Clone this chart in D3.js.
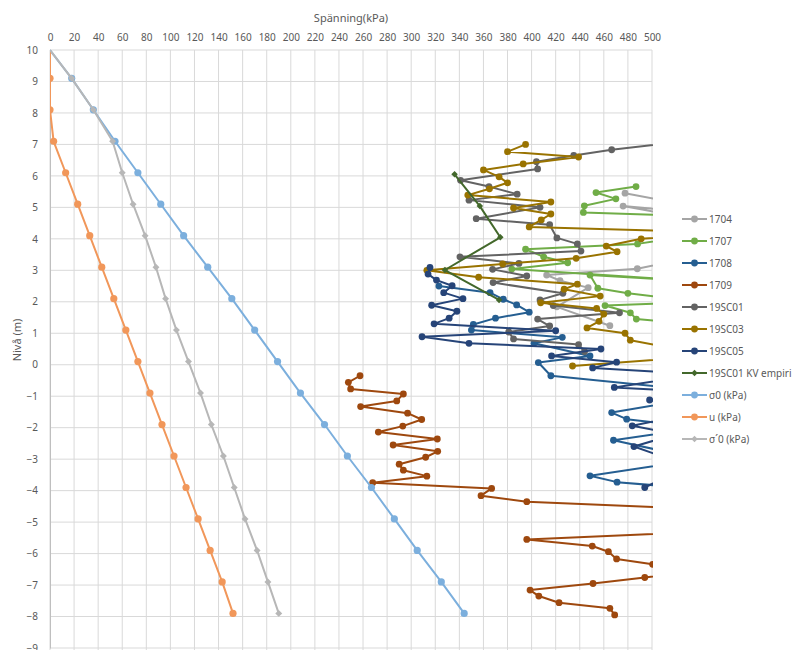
<!DOCTYPE html>
<html>
<head>
<meta charset="utf-8">
<script src="https://cdn.jsdelivr.net/npm/d3@7"></script>
<style>
  body { margin: 0; background: #fff; }
  text { font-family: "Noto Sans", "Liberation Sans", sans-serif; fill: #595959; }
</style>
</head>
<body>
<div id="main"></div>
<script>
// theoretical profiles, one value per level
var levels = [10, 9.1, 8.1, 7.1, 6.1, 5.1, 4.1, 3.1, 2.1, 1.1, 0.1, -0.9, -1.9, -2.9, -3.9, -4.9, -5.9, -6.9, -7.9];
var sigma0 = [0, 18, 36, 54, 73, 92, 111, 131, 151, 170, 189, 208, 228, 247, 267, 286, 305, 325, 344];
var uKpa = [0, 0, 0, 3, 13, 23, 33, 43, 53, 63, 73, 83, 93, 103, 113, 123, 133, 143, 152];
var sigmaEff = [0, 18, 36, 52, 60, 69, 79, 88, 96, 105, 115, 125, 134, 144, 153, 162, 172, 181, 190];

// measured series: [kPa, level]
var s1704 = [[477.6, 5.45], [580, 4.7], [476, 5.04], [616, 4.08], [487.8, 3.05], [412.5, 2.85], [423.6, 2.67], [447, 2.45], [421, 1.84], [465, 1.24]];
var s1707 = [[486.7, 5.66], [453.5, 5.47], [470, 5.27], [443.8, 5.05], [443, 4.84], [615, 4.62], [488, 3.84], [395, 3.67], [410, 3.43], [430, 3.24], [383.5, 3.04], [600, 2.5], [448.5, 2.85], [455, 2.43], [480, 2.27], [540, 2.0], [461, 1.88], [482, 1.65], [487, 1.45], [560, 1.2]];
var s1708 = [[323, 2.5], [365.5, 2.29], [376.5, 2.08], [387.6, 1.9], [398, 1.67], [370, 1.48], [351.6, 1.28], [350, 1.1], [425.5, 0.87], [402, 0.68], [448.5, 0.28], [405.6, 0.07], [416, -0.35], [560, -0.9], [466.5, -1.52], [479, -1.73], [540, -2.0], [468, -2.4], [540, -3.0], [448.5, -3.53], [471, -3.73], [540, -3.95]];
var s1709 = [[257.5, -0.35], [247.8, -0.56], [249.7, -0.77], [293.5, -0.93], [288, -1.15], [258, -1.33], [297, -1.54], [308.7, -1.74], [293, -1.95], [272.7, -2.14], [321.7, -2.36], [285, -2.55], [322, -2.75], [312, -2.94], [290, -3.16], [293.5, -3.35], [313, -3.54], [268, -3.75], [366.8, -3.93], [358, -4.16], [396, -4.35], [760, -4.95], [396, -5.55], [450.4, -5.76], [463.8, -5.94], [470.6, -6.17], [500.5, -6.34], [530, -6.6], [494, -6.76], [451, -6.95], [398.7, -7.16], [406, -7.35], [422.8, -7.56], [465, -7.74], [469, -7.95]];
var s19SC01 = [[540, 7.15], [466.5, 6.83], [435, 6.65], [404, 6.45], [405, 6.22], [341, 5.86], [364.6, 5.66], [388, 5.42], [348, 5.23], [407, 5.0], [354, 4.64], [415, 4.45], [421, 4.03], [438, 3.84], [441, 3.61], [340.5, 3.43], [389.5, 3.22], [367.6, 3.03], [396, 2.82], [368, 2.61], [426, 2.27], [407, 2.06], [418, 1.88], [473, 1.65], [405, 1.45], [415, 1.23], [381, 1.04], [385, 0.82], [439, 0.64], [444, 0.42]];
var s19SC03 = [[395, 7.0], [380, 6.77], [439, 6.6], [393, 6.38], [360, 6.19], [373, 5.97], [380, 5.78], [365, 5.59], [347, 5.39], [416, 5.17], [385, 4.98], [416, 4.79], [408, 4.6], [398, 4.38], [560, 4.2], [491, 4.0], [462, 3.77], [471, 3.59], [437, 3.38], [376, 3.2], [313, 3.0], [356, 2.78], [438, 2.56], [427, 2.4], [457, 2.18], [407.5, 1.97], [454, 1.79], [460, 1.61], [456, 1.38], [446, 1.17], [477.6, 1.0], [482, 0.78], [551, 0.29], [434, -0.04]];
var s19SC05 = [[315.6, 3.09], [314, 2.88], [321, 2.69], [334, 2.51], [327, 2.29], [343, 2.1], [317, 1.89], [338, 1.7], [331.5, 1.48], [319, 1.3], [420, 1.08], [309, 0.89], [348, 0.68], [457.6, 0.5], [416.6, 0.28], [470.6, 0.08], [450.7, -0.1], [540, -0.3], [468.7, -0.72], [530, -0.85], [498, -1.12], [540, -1.5], [483.6, -1.94], [520, -2.2], [485, -2.6], [530, -3.2], [494, -3.9]];
var sKV = [[336, 6.05], [357, 5.04], [374, 4.05], [328, 3.01], [373, 2.06]];

var seriesNames = ["1704", "1707", "1708", "1709", "19SC01", "19SC03", "19SC05", "19SC01 KV empiri", "σ0 (kPa)", "u (kPa)", "σ´0 (kPa)"];
var seriesColors = ["#A5A5A5", "#70AD47", "#255E91", "#9E480E", "#636363", "#997300", "#264478", "#43682B", "#7CAFDD", "#F1975A", "#B7B7B7"];

var outerWidth = 795, outerHeight = 650;
var marginLeft = 50, marginTop = 50, plotRight = 652, plotBottom = 648;

var xScale = d3.scaleLinear().domain([0, 500]).range([marginLeft, plotRight]);
var yScale = d3.scaleLinear().domain([10, -9]).range([marginTop, plotBottom]);

var svg = d3.select("#main").append("svg")
    .attr("width", outerWidth)
    .attr("height", outerHeight);

svg.append("clipPath").attr("id", "plotClip")
    .append("rect")
    .attr("x", marginLeft).attr("y", marginTop - 6)
    .attr("width", plotRight - marginLeft + 1).attr("height", plotBottom - marginTop + 10);

var xTicks = d3.range(0, 501, 20);
var yTicks = d3.range(10, -10, -1);

// gridlines
svg.append("g").selectAll("line").data(xTicks).enter().append("line")
    .attr("x1", d => xScale(d)).attr("x2", d => xScale(d))
    .attr("y1", marginTop).attr("y2", plotBottom + 4)
    .attr("stroke", "#D9D9D9").attr("stroke-width", 1);
svg.append("g").selectAll("line").data(yTicks).enter().append("line")
    .attr("x1", marginLeft).attr("x2", plotRight)
    .attr("y1", d => yScale(d)).attr("y2", d => yScale(d))
    .attr("stroke", "#D9D9D9").attr("stroke-width", 1);

// axes
var xAxisG = svg.append("g")
    .attr("transform", "translate(0," + marginTop + ")")
    .call(d3.axisTop(xScale).tickValues(xTicks).tickSize(0).tickPadding(9));
xAxisG.select(".domain").remove();
xAxisG.selectAll("text").style("font-size", "10px").attr("fill", "#595959");

var yAxisG = svg.append("g")
    .attr("transform", "translate(" + marginLeft + ",0)")
    .call(d3.axisLeft(yScale).tickValues(yTicks).tickSize(0).tickPadding(12));
yAxisG.select(".domain").attr("stroke", "#BFBFBF");
yAxisG.selectAll("text").style("font-size", "10px").attr("fill", "#595959");

svg.append("text")
    .attr("x", (marginLeft + plotRight) / 2).attr("y", 22)
    .attr("text-anchor", "middle")
    .style("font-size", "11px")
    .text("Spänning(kPa)");

svg.append("text")
    .attr("transform", "translate(21," + 340 + ") rotate(-90)")
    .attr("text-anchor", "middle")
    .style("font-size", "11px")
    .text("Nivå (m)");

var line = d3.line().x(d => xScale(d[0])).y(d => yScale(d[1]));
var plot = svg.append("g").attr("clip-path", "url(#plotClip)");

function drawSeries(data, color, marker, width, r, skipFirst) {
    var g = plot.append("g");
    g.append("path").datum(data)
        .attr("d", line)
        .attr("fill", "none")
        .attr("stroke", color)
        .attr("stroke-width", width)
        .attr("stroke-linejoin", "round");
    var pts = skipFirst ? data.slice(1) : data;
    if (marker == "circle") {
        g.selectAll("circle").data(pts).enter().append("circle")
            .attr("cx", d => xScale(d[0])).attr("cy", d => yScale(d[1]))
            .attr("r", r).attr("fill", color);
    } else {
        g.selectAll("path.m").data(pts).enter().append("path")
            .attr("class", "m")
            .attr("d", d3.symbol().type(d3.symbolDiamond2).size(r * r * 3))
            .attr("transform", d => "translate(" + xScale(d[0]) + "," + yScale(d[1]) + ")")
            .attr("fill", color);
    }
}

var zipLevels = vals => vals.map((v, i) => [v, levels[i]]);

drawSeries(s1704, seriesColors[0], "circle", 2, 3.4);
drawSeries(s1707, seriesColors[1], "circle", 2, 3.4);
drawSeries(s1708, seriesColors[2], "circle", 2, 3.4);
drawSeries(s1709, seriesColors[3], "circle", 2, 3.4);
drawSeries(s19SC01, seriesColors[4], "circle", 2, 3.4);
drawSeries(s19SC03, seriesColors[5], "circle", 2, 3.4);
drawSeries(s19SC05, seriesColors[6], "circle", 2, 3.4);
drawSeries(sKV, seriesColors[7], "diamond", 2, 3.0);
drawSeries(zipLevels(sigma0), seriesColors[8], "circle", 2, 3.6, true);
drawSeries(zipLevels(uKpa), seriesColors[9], "circle", 2, 3.6, true);
drawSeries(zipLevels(sigmaEff), seriesColors[10], "diamond", 2, 3.2, true);

// legend
var legend = svg.append("g").selectAll("g").data(seriesNames).enter().append("g")
    .attr("transform", (d, i) => "translate(682," + (219 + i * 22) + ")");
legend.append("line")
    .attr("x1", 0).attr("x2", 25)
    .attr("stroke", (d, i) => seriesColors[i]).attr("stroke-width", 2);
legend.each(function (d, i) {
    var g = d3.select(this);
    if (i == 7 || i == 10) {
        g.append("path").attr("d", d3.symbol().type(d3.symbolDiamond2).size(27))
            .attr("transform", "translate(12.5,0)").attr("fill", seriesColors[i]);
    } else {
        g.append("circle").attr("cx", 12.5).attr("r", 3.4).attr("fill", seriesColors[i]);
    }
});
legend.append("text")
    .attr("x", 27).attr("dy", "0.35em")
    .style("font-size", "10px")
    .text(d => d);
</script>
</body>
</html>
